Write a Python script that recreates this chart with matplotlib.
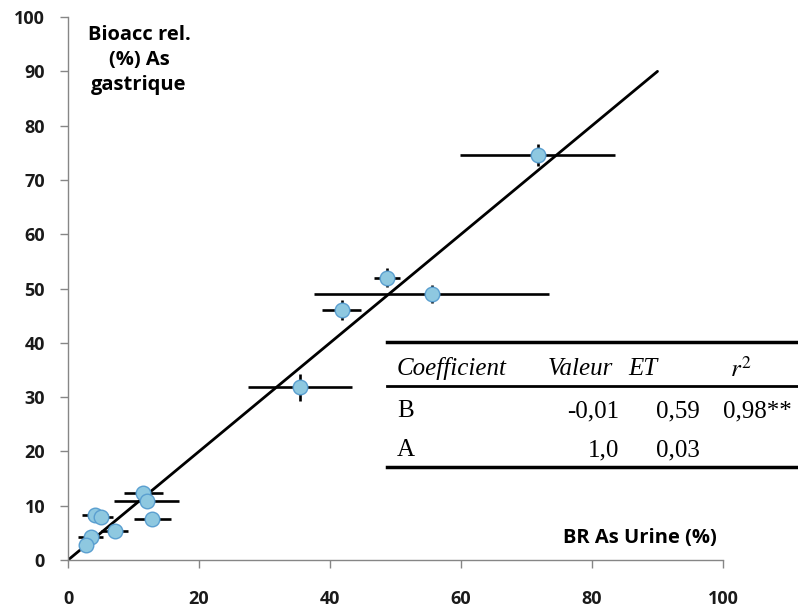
import matplotlib
matplotlib.use("Agg")
import matplotlib.pyplot as plt

# ── Data ──────────────────────────────────────────────────────────────────────
BR_URINE  = [71.7, 48.7, 55.5, 41.8, 35.4, 11.5, 12.0, 12.9, 4.1, 5.0, 7.1, 3.5, 2.7]
BIOACC    = [74.6, 52.0, 49.0, 46.0, 31.8, 12.4, 10.9, 7.5, 8.3, 7.9, 5.3, 4.2, 2.8]
XERR      = [11.8, 2.0, 17.9, 3.0, 7.9, 3.0, 5.0, 2.9, 2.0, 1.9, 2.0, 1.9, 0.5]
YERR      = [2.0, 1.8, 1.7, 1.8, 2.5, 0.5, 0.5, 0.5, 0.5, 0.5, 0.5, 0.5, 0.5]

FIT_A     = 1.0      # slope
FIT_B     = -0.01    # intercept
FIT_X     = [0, 90]

X_TICKS   = [0, 20, 40, 60, 80, 100]
Y_TICKS   = [0, 10, 20, 30, 40, 50, 60, 70, 80, 90, 100]

TABLE_HEAD = ["Coefficient", "Valeur", "ET", "$r^2$"]
TABLE_ROWS = [["B", "-0,01", "0,59", "0,98**"],
              ["A", "1,0",   "0,03", ""]]

SANS  = ["Open Sans", "DejaVu Sans"]
SERIF = ["Liberation Serif", "DejaVu Serif"]
AXIS_GREY = "#868686"

plt.rcParams["mathtext.fontset"] = "stix"

# ── Figure ────────────────────────────────────────────────────────────────────
W, H = 798, 608
fig = plt.figure(figsize=(W / 100, H / 100), dpi=100)
ax = fig.add_axes([68 / W, (H - 560) / H, (723 - 68) / W, (560 - 17) / H])

fit_y = [FIT_A * x + FIT_B for x in FIT_X]
ax.plot(FIT_X, fit_y, color="black", lw=2.0, zorder=2, solid_capstyle="round")

ax.errorbar(BR_URINE, BIOACC, xerr=XERR, yerr=YERR, fmt="none",
            ecolor="black", elinewidth=1.9, capsize=0, zorder=3)
ax.plot(BR_URINE, BIOACC, "o", ms=10.5, mfc="#8ec8e0", mec="#5a9fd0",
        mew=1.0, zorder=4)

ax.set_xlim(0, 100)
ax.set_ylim(0, 100)
ax.set_xticks(X_TICKS)
ax.set_yticks(Y_TICKS)
for s in ["top", "right"]:
    ax.spines[s].set_visible(False)
for s in ["left", "bottom"]:
    ax.spines[s].set_color(AXIS_GREY)
    ax.spines[s].set_linewidth(1.0)
ax.tick_params(axis="both", direction="out", color=AXIS_GREY, length=5.5,
               width=1.0, labelcolor="#1a1a1a")
ax.tick_params(axis="y", pad=11)
ax.tick_params(axis="x", pad=16)
for lab in ax.get_xticklabels() + ax.get_yticklabels():
    lab.set_family(SANS)
    lab.set_fontweight("bold")
    lab.set_fontsize(13)

# axis titles placed inside the plot, as in the original
fig.text(139 / W, 1 - 60 / H, "Bioacc rel.\n(%) As\ngastrique", family=SANS,
         fontweight="bold", fontsize=14.5, ha="center", va="center",
         linespacing=1.35)
fig.text(717 / W, 1 - 538 / H, "BR As Urine (%)", family=SANS,
         fontweight="bold", fontsize=14.5, ha="right", va="center")

# ── Regression table ─────────────────────────────────────────────────────────
def fx(px):
    return px / W

def fy(py):
    return 1 - py / H

for yy, lw in [(342, 2.5), (386, 2.0), (467, 2.5)]:
    fig.add_artist(plt.Line2D([fx(387), 1.0], [fy(yy)] * 2, color="black",
                              lw=lw, transform=fig.transFigure))

head_x = [397, 548, 628, 730]
for txt, x in zip(TABLE_HEAD, head_x):
    fig.text(fx(x), fy(369), txt, family=SERIF, style="italic", fontsize=18,
             ha="left", va="center")

row_y  = [411, 450]
col_x  = [397, 619, 700, 723]
col_ha = ["left", "right", "right", "left"]
for row, yy in zip(TABLE_ROWS, row_y):
    for txt, x, ha in zip(row, col_x, col_ha):
        fig.text(fx(x), fy(yy), txt, family=SERIF, fontsize=18,
                 ha=ha, va="center")

fig.savefig("out.png", dpi=100)
